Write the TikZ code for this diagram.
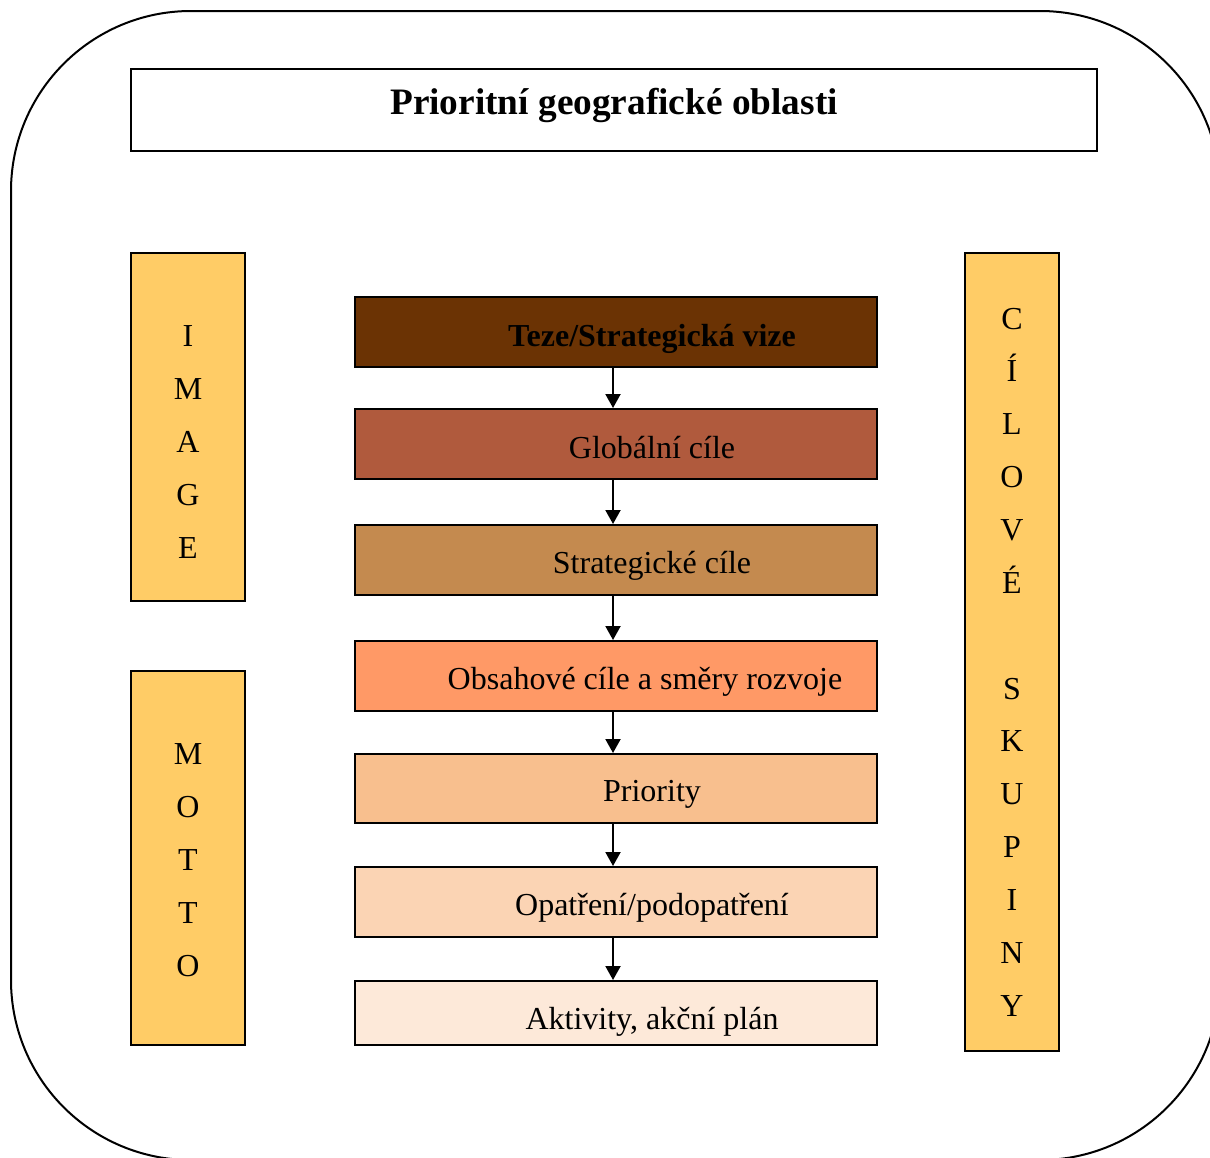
\documentclass[tikz,border=0pt]{standalone}
\usepackage{fontspec}
\setmainfont{Liberation Serif}
\usetikzlibrary{arrows.meta}
\definecolor{yel}{HTML}{FFCC66}
\definecolor{cA}{HTML}{6B3304}
\definecolor{cB}{HTML}{B05A3D}
\definecolor{cC}{HTML}{C48A4F}
\definecolor{cD}{HTML}{FF9966}
\definecolor{cE}{HTML}{F8BF8E}
\definecolor{cF}{HTML}{FBD4B4}
\definecolor{cG}{HTML}{FDE9D9}
\begin{document}
\begin{tikzpicture}[x=1pt,y=-1pt,
  frame/.style={draw=black, line width=2pt, inner sep=0pt},
  stepbox/.style={frame, minimum width=522pt, minimum height=70pt},
  sidebox/.style={frame, fill=yel},
  lbl/.style={inner sep=0pt, anchor=base, font=\fontsize{32pt}{38pt}\selectfont},
  arr/.style={line width=2pt, -{Triangle[width=15pt,length=14pt]}}]
\useasboundingbox (0,0) rectangle (1210,1157);
\begin{scope}
\clip (0,0) rectangle (1210,1157);
\draw[line width=2pt, rounded corners=180pt] (11,11) rectangle (1220,1160);
\end{scope}
% title
\node[frame, minimum width=966pt, minimum height=82pt] (title) at (614,110) {};
\node[lbl, font=\fontsize{37.3pt}{44pt}\selectfont\bfseries] (titletxt) at (614,114) {Prioritní geografické oblasti};
% side boxes
\node[sidebox, minimum width=114pt, minimum height=348pt] (image) at (188,427) {};
\node[sidebox, minimum width=114pt, minimum height=374pt] (motto) at (188,858) {};
\node[sidebox, minimum width=94pt, minimum height=798pt] (cil) at (1012,652) {};
\foreach \l [count=\i] in {I,M,A,G,E}
  \node[lbl] (img\i) at (188,{346+53*(\i-1)}) {\l};
\foreach \l [count=\i] in {M,O,T,T,O}
  \node[lbl] (mot\i) at (188,{764+53*(\i-1)}) {\l};
\foreach \l [count=\i] in {C,Í,L,O,V,É}
  \node[lbl] (cil\i) at (1012,{329+52.9*(\i-1)}) {\l};
\foreach \l [count=\i] in {S,K,U,P,I,N,Y}
  \node[lbl] (sk\i) at (1012,{699+52.9*(\i-1)}) {\l};
% steps
\node[stepbox, fill=cA] (b1) at (616,332) {};
\node[stepbox, fill=cB] (b2) at (616,444) {};
\node[stepbox, fill=cC] (b3) at (616,560) {};
\node[stepbox, fill=cD] (b4) at (616,676) {};
\node[stepbox, fill=cE, minimum height=69pt] (b5) at (616,788.5) {};
\node[stepbox, fill=cF] (b6) at (616,902) {};
\node[stepbox, fill=cG, minimum height=64pt] (b7) at (616,1013) {};
\node[lbl, font=\fontsize{32pt}{38pt}\selectfont\bfseries] (t1) at (652,346) {Teze/Strategická vize};
\node[lbl] (t2) at (652,458) {Globální cíle};
\node[lbl] (t3) at (652,573) {Strategické cíle};
\node[lbl] (t4) at (645,689) {Obsahové cíle a směry rozvoje};
\node[lbl] (t5) at (652,801) {Priority};
\node[lbl] (t6) at (652,915) {Opatření/podopatření};
\node[lbl] (t7) at (652,1029) {Aktivity, akční plán};
\foreach \a/\b in {b1/b2,b2/b3,b3/b4,b4/b5,b5/b6,b6/b7}
  \draw[arr] ([xshift=-3pt]\a.south) -- ([xshift=-3pt]\b.north);
\end{tikzpicture}
\end{document}
